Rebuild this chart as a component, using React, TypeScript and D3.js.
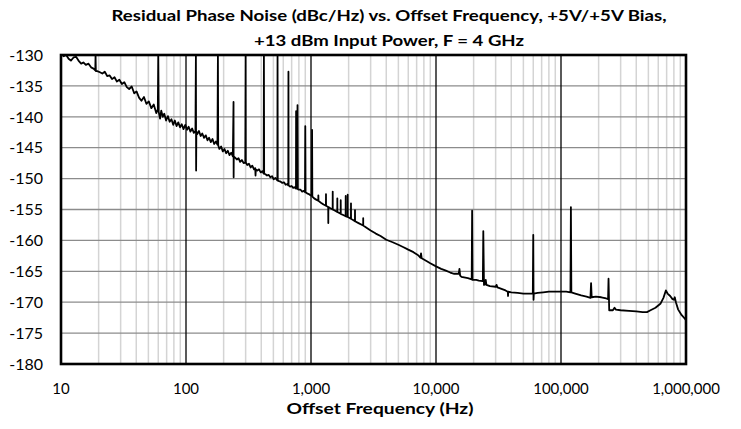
import React from "react";
import * as d3 from "d3";

// ---- data (offset frequency Hz, residual phase noise dBc/Hz) ----
const band10to100: [number, number][] = [
  [10, -129.6], [10.5, -130.2], [11, -130.0], [11.5, -130.6], [12, -130.9], [12.6, -130.4],
  [13.2, -130.3], [13.8, -130.9], [14.5, -131.4], [15.1, -131.2], [15.8, -131.6], [16.6, -131.4],
  [17.4, -132.0], [18.2, -132.2], [18.8, -132.5], [18.9, -130.0], [19.0, -132.6], [19.5, -132.6],
  [20.5, -132.8], [21.4, -133.0], [22.4, -132.7], [23.4, -133.4], [24.5, -133.3], [25.6, -133.9],
  [26.8, -133.6], [28.0, -134.3], [29.3, -134.0], [30.7, -134.7], [32.1, -134.4], [33.6, -135.2],
  [35.1, -135.5], [36.8, -135.1], [38.5, -136.2], [40.2, -135.9], [42.1, -136.9], [44.0, -137.4],
  [46.1, -136.8], [48.2, -137.9], [50.4, -137.5], [52.8, -138.6], [55.2, -138.0], [57.8, -139.4],
  [59.5, -138.8], [60, -130.0], [60.5, -139.2], [62, -140.3], [63.4, -139.0], [65.2, -140.0],
  [67, -139.5], [69.3, -140.6], [71.7, -139.9], [74, -140.8], [76.5, -140.4], [79, -141.3],
  [81.4, -140.6], [84, -141.5], [86.7, -140.9], [89.6, -141.7], [92.5, -141.2], [95.5, -142.0],
  [98.7, -141.3],
];

const band100to1k: [number, number][] = [
  [102, -142.1], [105, -141.6], [108.5, -142.4], [112, -141.9], [115.5, -142.6], [119, -142.3],
  [120, -130.0], [120.5, -148.7], [121, -142.4], [123, -142.8], [127, -142.3], [131, -143.1],
  [135, -142.7], [139.5, -143.4], [144, -143.0], [148.5, -143.8], [153, -143.4], [158, -144.1],
  [163, -143.6], [168, -144.4], [173.5, -144.0], [178.5, -144.5], [180, -130.0], [181, -144.6],
  [185, -145.2], [191, -144.8], [197, -145.6], [203, -145.2], [209.5, -145.9], [216, -145.5],
  [223, -146.2], [230, -145.8], [237, -146.4], [240, -137.6], [240.5, -149.8], [241, -146.4],
  [247, -146.6], [255, -146.9], [263, -146.7], [271, -147.3], [280, -147.0], [289, -147.5],
  [298, -147.4], [300, -130.0], [301, -147.4], [309, -147.8], [319, -147.6], [329, -148.2],
  [339, -147.9], [350, -148.5], [358, -148.3], [360, -149.5], [362, -148.5], [372, -148.7],
  [384, -148.5], [396, -149.0], [408, -148.8], [418, -149.2], [420, -130.0], [422, -149.2],
  [432, -149.3], [445, -149.5], [459, -149.4], [473, -149.8], [488, -149.6], [503, -150.1],
  [519, -149.9], [538, -150.3], [540, -130.0], [542, -150.3], [555, -150.4], [572, -150.5],
  [590, -150.7], [608, -150.6], [627, -151.0], [646, -150.9], [658, -151.1], [660, -132.7],
  [662, -151.1], [680, -151.3], [700, -151.2], [720, -151.5], [740, -151.4], [758, -151.6],
  [760, -139.1], [762, -151.6], [775, -151.6], [780, -138.1], [785, -151.7], [800, -151.8],
  [825, -151.8], [850, -152.1], [875, -152.0], [895, -152.2], [900, -141.5], [905, -152.2],
  [930, -152.4], [960, -152.5], [990, -152.7],
];

const band1kto10k: [number, number][] = [
  [1015, -152.8], [1020, -142.1], [1025, -152.9], [1060, -153.2], [1100, -153.4], [1143, -153.6],
  [1145, -152.7], [1148, -153.6], [1200, -153.9], [1260, -154.2], [1316, -154.4], [1318, -152.5],
  [1320, -154.4], [1373, -154.6], [1375, -157.2], [1377, -154.6], [1430, -154.8], [1490, -155.0],
  [1492, -152.1], [1494, -155.0], [1560, -155.2], [1622, -155.4], [1624, -153.2], [1626, -155.4],
  [1727, -155.7], [1729, -153.5], [1731, -155.7], [1810, -155.9], [1893, -156.1], [1895, -152.8],
  [1897, -156.1], [1964, -156.2], [1966, -152.6], [1968, -156.2], [2087, -156.5], [2089, -154.0],
  [2091, -156.5], [2170, -156.7], [2247, -156.9], [2249, -155.1], [2251, -156.9], [2400, -157.2],
  [2614, -157.6], [2616, -156.4], [2618, -157.6], [2800, -158.0], [3000, -158.4], [3300, -158.9],
  [3600, -159.3], [4000, -159.9], [4500, -160.3], [5000, -160.7], [5500, -161.1], [6000, -161.5],
  [6600, -161.9], [7200, -162.4], [7500, -162.8], [7590, -162.1], [7680, -162.9], [8000, -163.1],
  [9000, -163.7],
];

const band10kto1M: [number, number][] = [
  [10000, -164.2], [11000, -164.6], [12000, -164.9], [13000, -165.2], [14000, -165.4],
  [15200, -165.4], [15400, -164.6], [15600, -165.7], [16000, -165.9], [18000, -166.1],
  [19300, -166.3], [19450, -155.2], [19600, -166.4], [21000, -166.4], [22000, -166.5],
  [23700, -166.6], [23900, -158.5], [24200, -167.2], [24800, -167.1], [25000, -166.4],
  [25300, -167.2], [27000, -167.4], [30000, -167.5], [30500, -167.2], [31000, -167.6],
  [33000, -167.8], [36000, -168.1], [37500, -168.3], [37700, -169.0], [37900, -168.3],
  [40000, -168.4], [45000, -168.5], [50000, -168.6], [55000, -168.6], [59500, -168.6],
  [60000, -159.1], [60300, -169.6], [60600, -168.6], [65000, -168.5], [72000, -168.4],
  [80000, -168.3], [90000, -168.3], [100000, -168.3], [110000, -168.3], [119000, -168.4],
  [120000, -154.6], [121000, -168.4], [130000, -168.6], [145000, -168.9], [160000, -169.1],
  [172000, -169.3], [174000, -166.9], [176000, -169.2], [190000, -169.1], [210000, -169.2],
  [230000, -169.4], [238000, -169.5], [240000, -166.2], [243000, -171.3], [260000, -171.3],
  [268000, -170.9], [275000, -171.2], [300000, -171.3], [350000, -171.4], [400000, -171.5],
  [450000, -171.6], [487000, -171.6], [520000, -171.3], [570000, -170.9], [627000, -170.2],
  [660000, -169.3], [690000, -168.1], [712000, -168.6], [747000, -169.0], [780000, -169.5],
  [800000, -169.6], [813000, -169.2], [830000, -170.0], [866000, -171.2], [924000, -172.1],
  [983000, -172.7], [1000000, -172.9],
];

const xDecades = [10, 100, 1000, 10000, 100000, 1000000];
const xTickLabels = ["10", "100", "1,000", "10,000", "100,000", "1,000,000"];
const yTicks = [-130, -135, -140, -145, -150, -155, -160, -165, -170, -175, -180];

const titleLines = [
  "Residual Phase Noise (dBc/Hz) vs. Offset Frequency, +5V/+5V Bias,",
  "+13 dBm Input Power, F = 4 GHz",
];
const xAxisTitle = "Offset Frequency (Hz)";

export default function App() {
  const W = 741, H = 429;
  const left = 61, right = 686, top = 55, bottom = 364;
  const x = d3.scaleLog().domain([10, 1e6]).range([left, right]);
  const y = d3.scaleLinear().domain([-180, -130]).range([bottom, top]);

  const data = [...band10to100, ...band100to1k, ...band1kto10k, ...band10kto1M];
  const line = d3
    .line<[number, number]>()
    .x((d) => x(d[0]))
    .y((d) => y(d[1]));

  const minor: number[] = [];
  for (let i = 0; i < xDecades.length - 1; i++) {
    for (let k = 2; k <= 9; k++) minor.push(xDecades[i] * k);
  }

  const font = "Lato, 'Open Sans', sans-serif";

  return (
    <svg width={W} height={H} style={{ position: "absolute", left: 0, top: 0, background: "#fff" }}>
      <defs>
        <clipPath id="plot">
          <rect x={left} y={top} width={right - left} height={bottom - top} />
        </clipPath>
      </defs>
      <rect x={0} y={0} width={W} height={H} fill="#fff" />
      {minor.map((f) => (
        <line key={"m" + f} x1={x(f)} x2={x(f)} y1={top} y2={bottom} stroke="#d4d4d4" strokeWidth={1.5} />
      ))}
      {yTicks.map((v) => (
        <line key={"h" + v} x1={left} x2={right} y1={y(v)} y2={y(v)} stroke="#8c8c8c" strokeWidth={1.3} />
      ))}
      {xDecades.map((f) => (
        <line key={"d" + f} x1={x(f)} x2={x(f)} y1={top} y2={bottom} stroke="#000" strokeWidth={1.3} />
      ))}
      <path
        d={line(data) || ""}
        fill="none"
        stroke="#000"
        strokeWidth={1.8}
        strokeLinejoin="round"
        clipPath="url(#plot)"
      />
      <rect x={left} y={top} width={right - left} height={bottom - top} fill="none" stroke="#000" strokeWidth={2.6} />
      {yTicks.map((v) => (
        <text key={"yl" + v} x={43} y={y(v)} dy="0.36em" textAnchor="end" fontFamily={font} fontSize={16} fill="#000">
          {String(v)}
        </text>
      ))}
      {xDecades.map((f, i) => (
        <text key={"xl" + f} x={x(f)} y={394} textAnchor="middle" fontFamily={font} fontSize={15} fill="#000">
          {xTickLabels[i]}
        </text>
      ))}
      <text x={389} y={21} textAnchor="middle" fontFamily={font} fontWeight="bold" fontSize={16}
        textLength={555} lengthAdjust="spacingAndGlyphs" fill="#000">
        {titleLines[0]}
      </text>
      <text x={389} y={46} textAnchor="middle" fontFamily={font} fontWeight="bold" fontSize={16}
        textLength={270} lengthAdjust="spacingAndGlyphs" fill="#000">
        {titleLines[1]}
      </text>
      <text x={380} y={414} textAnchor="middle" fontFamily={font} fontWeight="bold" fontSize={16}
        textLength={187} lengthAdjust="spacingAndGlyphs" fill="#000">
        {xAxisTitle}
      </text>
    </svg>
  );
}
